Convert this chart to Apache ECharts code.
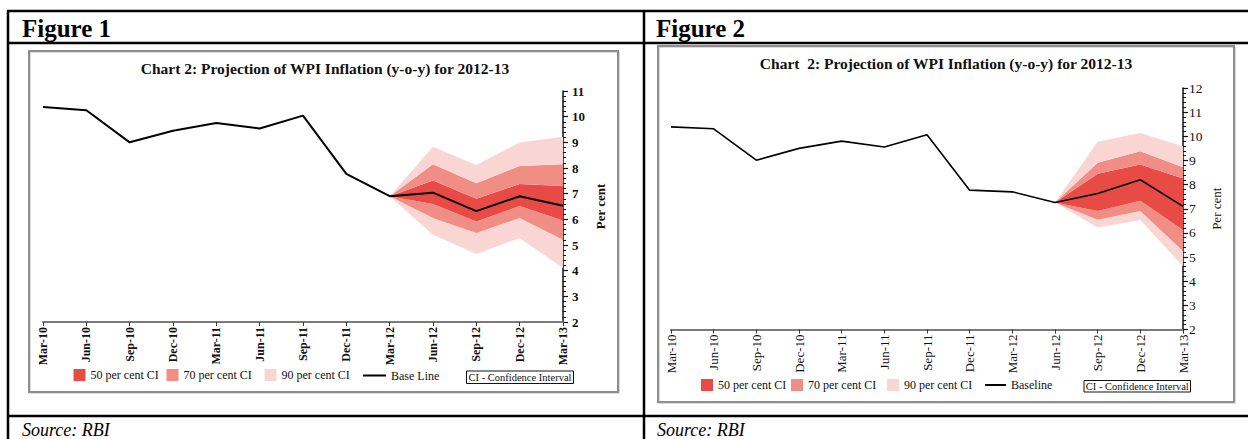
<!DOCTYPE html>
<html>
<head>
<meta charset="utf-8">
<script src="https://cdn.jsdelivr.net/npm/echarts@6/dist/echarts.min.js"></script>
<style>
html,body{margin:0;padding:0;background:#fff;}
#c{width:1248px;height:439px;}
</style>
</head>
<body>
<div id="c"></div>
<script>
// ---------- DATA ----------
const categories = ['Mar-10','Jun-10','Sep-10','Dec-10','Mar-11','Jun-11','Sep-11','Dec-11','Mar-12','Jun-12','Sep-12','Dec-12','Mar-13'];

const figureHeaders = ['Figure 1', 'Figure 2'];
const sourceNotes = ['Source: RBI', 'Source: RBI'];
const chartTitles = ['Chart 2: Projection of WPI Inflation (y-o-y) for 2012-13', 'Chart  2: Projection of WPI Inflation (y-o-y) for 2012-13'];
const bandNames = ['50 per cent CI', '70 per cent CI', '90 per cent CI'];
const baselineNames = ['Base Line', 'Baseline'];
const ciNote = 'CI - Confidence Interval';
const yAxisName = 'Per cent';

const fig1YMin = 2, fig1YMax = 11;
const fig2YMin = 2, fig2YMax = 12;

const fig1Baseline = [10.38, 10.25, 9.00, 9.45, 9.75, 9.54, 10.04, 7.77, 6.90, 7.04, 6.32, 6.90, 6.53];
const fig1Upper90 = [null,null,null,null,null,null,null,null, 6.90, 8.83, 8.12, 8.99, 9.22];
const fig1Upper70 = [null,null,null,null,null,null,null,null, 6.90, 8.15, 7.41, 8.08, 8.15];
const fig1Upper50 = [null,null,null,null,null,null,null,null, 6.90, 7.51, 6.80, 7.38, 7.30];
const fig1Lower50 = [null,null,null,null,null,null,null,null, 6.90, 6.60, 5.92, 6.52, 5.95];
const fig1Lower70 = [null,null,null,null,null,null,null,null, 6.90, 6.05, 5.47, 6.05, 5.20];
const fig1Lower90 = [null,null,null,null,null,null,null,null, 6.90, 5.40, 4.65, 5.27, 4.10];

const fig2Baseline = [10.39, 10.31, 9.01, 9.50, 9.80, 9.56, 10.06, 7.77, 7.70, 7.26, 7.63, 8.20, 7.10];
const fig2Upper90 = [null,null,null,null,null,null,null,null,null, 7.26, 9.77, 10.14, 9.59];
const fig2Upper70 = [null,null,null,null,null,null,null,null,null, 7.26, 8.90, 9.38, 8.72];
const fig2Upper50 = [null,null,null,null,null,null,null,null,null, 7.26, 8.45, 8.83, 8.25];
const fig2Lower50 = [null,null,null,null,null,null,null,null,null, 7.26, 6.91, 7.33, 6.12];
const fig2Lower70 = [null,null,null,null,null,null,null,null,null, 7.26, 6.54, 6.91, 5.25];
const fig2Lower90 = [null,null,null,null,null,null,null,null,null, 7.26, 6.22, 6.53, 4.62];

// ---------- STYLE ----------
const SERIF = "'Liberation Serif','Times New Roman',serif";
const C50 = '#e84b45', C70 = '#f08d85', C90 = '#f9d6d3';
const bandColors = [C50, C70, C90];

function diff(a, b) {
  return a.map((v, i) => (v == null || b[i] == null) ? '-' : +(v - b[i]).toFixed(3));
}
function toSeriesData(a) { return a.map(v => v == null ? '-' : v); }

const figs = [
  { base: fig1Baseline, u90: fig1Upper90, u70: fig1Upper70, u50: fig1Upper50, l50: fig1Lower50, l70: fig1Lower70, l90: fig1Lower90,
    yMin: fig1YMin, yMax: fig1YMax,
    grid: {left: 43, top: 91, width: 520, height: 231},
    weight: 'bold', tickFont: 13, xFont: 12, nameFont: 13, nameGap: 31, labelMargin: 9, lineW: 2,
    legendTop: 369, legendX: [73.5, 166.5, 264.5], baseX: 363, baseLineW: 23, baseTop: 369.5,
    ciBox: {x: 466.5, y: 371, w: 107, h: 12.5},
    title: {x: 325, y: 60}, header: {x: 22, y: 28}, source: {x: 22, y: 430} },
  { base: fig2Baseline, u90: fig2Upper90, u70: fig2Upper70, u50: fig2Upper50, l50: fig2Lower50, l70: fig2Lower70, l90: fig2Lower90,
    yMin: fig2YMin, yMax: fig2YMax,
    grid: {left: 671, top: 88, width: 512, height: 241.5},
    weight: 'normal', tickFont: 13.5, xFont: 13, nameFont: 13, nameGap: 27, labelMargin: 6, lineW: 1.6,
    legendTop: 379, legendX: [701, 791, 887], baseX: 985, baseLineW: 21, baseTop: 379,
    ciBox: {x: 1084, y: 380.5, w: 106.5, h: 11.5},
    title: {x: 946, y: 55}, header: {x: 656, y: 28}, source: {x: 657, y: 430} }
];

const option = {
  animation: false,
  backgroundColor: '#fff',
  title: [], grid: [], xAxis: [], yAxis: [], series: [], legend: [], graphic: []
};

figs.forEach((f, k) => {
  option.grid.push(Object.assign({containLabel: false}, f.grid));
  option.title.push({
    text: chartTitles[k], left: f.title.x, top: f.title.y, textAlign: 'center', padding: 0,
    textStyle: {fontFamily: SERIF, fontWeight: 'bold', fontSize: 15.5, color: '#111'}
  });
  option.xAxis.push({
    type: 'category', gridIndex: k, data: categories, boundaryGap: false,
    axisLine: {onZero: false, lineStyle: {color: '#7a7a7a', width: 2}},
    axisTick: {show: true, length: 4, alignWithLabel: true, lineStyle: {color: '#333', width: 1}},
    axisLabel: {rotate: 90, margin: 5, interval: 0, fontFamily: SERIF, fontWeight: f.weight, fontSize: f.xFont, color: '#111'},
    splitLine: {show: false}
  });
  option.yAxis.push({
    type: 'value', gridIndex: k, position: 'right', min: f.yMin, max: f.yMax, interval: 1,
    name: yAxisName, nameLocation: 'middle', nameGap: f.nameGap, nameRotate: 90,
    nameTextStyle: {fontFamily: SERIF, fontWeight: f.weight, fontSize: f.nameFont, color: '#111'},
    axisLine: {show: true, lineStyle: {color: '#111', width: 1.5}},
    axisTick: {show: true, inside: false, length: 5, lineStyle: {color: '#111', width: 1.2}},
    minorTick: {show: true, splitNumber: 5, length: 3, lineStyle: {color: '#111', width: 1}},
    axisLabel: {margin: f.labelMargin, fontFamily: SERIF, fontWeight: f.weight, fontSize: f.tickFont, color: '#111'},
    splitLine: {show: false}, minorSplitLine: {show: false}
  });
  const stack = 'fan' + k;
  const common = {type: 'line', xAxisIndex: k, yAxisIndex: k, stack: stack, symbol: 'none', silent: true,
                  lineStyle: {width: 0, opacity: 0}};
  option.series.push(Object.assign({}, common, {name: 'base' + k, data: toSeriesData(f.l90)}));
  const layers = [
    [bandNames[2], C90, diff(f.l70, f.l90)],
    [bandNames[1], C70, diff(f.l50, f.l70)],
    [bandNames[0], C50, diff(f.u50, f.l50)],
    [bandNames[1], C70, diff(f.u70, f.u50)],
    [bandNames[2], C90, diff(f.u90, f.u70)]
  ];
  layers.forEach(([nm, col, d]) => {
    option.series.push(Object.assign({}, common, {
      name: nm, data: d, color: col, itemStyle: {color: col},
      areaStyle: {color: col, opacity: 1}
    }));
  });
  option.series.push({
    type: 'line', name: baselineNames[k], xAxisIndex: k, yAxisIndex: k, data: toSeriesData(f.base),
    symbol: 'none', color: '#000', lineStyle: {color: '#000', width: f.lineW}, z: 5, silent: true
  });
  // legends
  bandNames.forEach((nm, i) => {
    option.legend.push({
      data: [{name: nm, icon: 'rect', itemStyle: {color: bandColors[i]}}],
      left: f.legendX[i], top: f.legendTop, padding: 0, itemWidth: 12, itemHeight: 12,
      selectedMode: false, textStyle: {fontFamily: SERIF, fontSize: 12, color: '#111'}
    });
  });
  option.legend.push({
    data: [{name: baselineNames[k], icon: 'rect', itemStyle: {color: '#000'}}],
    left: f.baseX, top: f.baseTop, padding: 0, itemWidth: f.baseLineW, itemHeight: 2,
    selectedMode: false, textStyle: {fontFamily: SERIF, fontSize: 12, color: '#111'}
  });
  // frames and CI note
  const frame = k === 0 ? {x: 29, y: 51, width: 589, height: 341} : {x: 658, y: 46, width: 576, height: 356};
  option.graphic.push({type: 'rect', shape: {x: frame.x + 1, y: frame.y + 1, width: frame.width, height: frame.height},
    style: {fill: 'none', stroke: '#d0d0d0', lineWidth: 1.5}, z: -2});
  option.graphic.push({type: 'rect', shape: frame, style: {fill: 'none', stroke: '#8e8e8e', lineWidth: 2}, z: -1});
  option.graphic.push({type: 'rect', shape: {x: f.ciBox.x, y: f.ciBox.y, width: f.ciBox.w, height: f.ciBox.h},
    style: {fill: '#fff', stroke: '#111', lineWidth: 1}});
  option.graphic.push({type: 'text', x: f.ciBox.x + f.ciBox.w / 2, y: f.ciBox.y + f.ciBox.h / 2,
    style: {text: ciNote, fill: '#111', font: '10.5px ' + SERIF, textAlign: 'center', textVerticalAlign: 'middle'}});
  // table header and source
  option.graphic.push({type: 'text', x: f.header.x, y: f.header.y,
    style: {text: figureHeaders[k], fill: '#000', font: 'bold 25px ' + SERIF, textVerticalAlign: 'middle'}});
  option.graphic.push({type: 'text', x: f.source.x, y: f.source.y,
    style: {text: sourceNotes[k], fill: '#000', font: 'italic 18px ' + SERIF, textVerticalAlign: 'middle'}});
});

// table rules
const tableLines = [
  [7, 11, 1248, 11], [8, 11, 8, 439], [644, 11, 644, 439], [7, 43, 1248, 43], [7, 416, 1248, 416]
];
tableLines.forEach(([x1, y1, x2, y2]) => {
  option.graphic.push({type: 'line', shape: {x1, y1, x2, y2}, style: {stroke: '#000', lineWidth: 2.5}});
});

const chart = echarts.init(document.getElementById('c'), null, {renderer: 'svg', width: 1248, height: 439});
chart.setOption(option);
</script>
</body>
</html>
